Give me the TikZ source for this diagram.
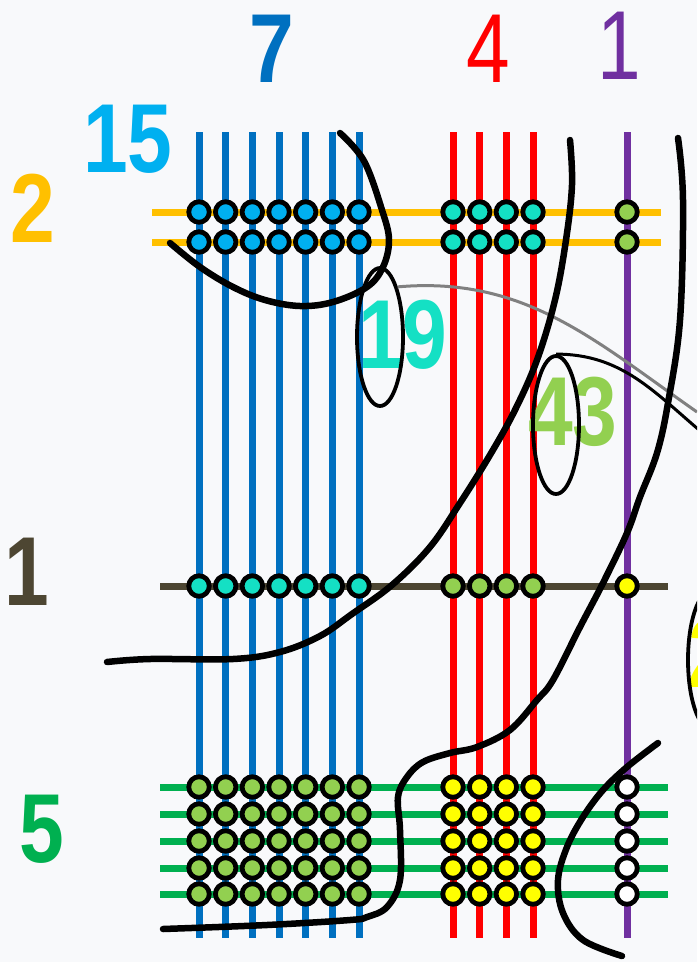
\documentclass[tikz,border=0pt]{standalone}
\usepackage{graphicx}
\usepackage{fontspec}
\setmainfont{Liberation Sans}
\usepackage{tikz}
\usetikzlibrary{positioning, calc, shapes.geometric}

\definecolor{bgcol}{HTML}{F8F9FB}
\definecolor{colblue}{HTML}{0070C0}
\definecolor{colsky}{HTML}{00B0F0}
\definecolor{colred}{HTML}{FF0000}
\definecolor{colpurple}{HTML}{7030A0}
\definecolor{colorange}{HTML}{FFC000}
\definecolor{cololive}{HTML}{4D4632}
\definecolor{colgreen}{HTML}{00B050}
\definecolor{colteal}{HTML}{14E0C4}
\definecolor{collime}{HTML}{92D050}
\definecolor{colyellow}{HTML}{FFFF00}

\newcommand{\slimbold}[1]{\scalebox{0.82}[1]{#1}}
\newcommand{\slimthin}[1]{\scalebox{0.8}[1]{#1}}

\begin{document}
\begin{tikzpicture}[x=1pt, y=-1pt,
    wire/.style={line width=7pt},
    dot/.style={circle, draw=black, line width=4.8pt, minimum size=20.5pt, inner sep=0pt},
    num/.style={anchor=base, inner sep=0pt, font=\fontsize{98}{100}\selectfont\bfseries},
    numthin/.style={anchor=base, inner sep=0pt, font=\fontsize{98}{100}\selectfont},
    ring/.style={draw=black, ellipse, line width=3.8pt, minimum width=46pt, minimum height=138pt, inner sep=0pt},
    cut/.style={line width=6.5pt, line cap=round, line join=round},
    link/.style={line width=3pt}]
  \fill[bgcol] (0,0) rectangle (697,962);
  \useasboundingbox (0,0) rectangle (697,962);
  \clip (0,0) rectangle (697,962);

  % columns
  \foreach \i in {0,...,6}
    \draw[wire, colblue] ({199+26.67*\i},132) -- ({199+26.67*\i},938);
  \foreach \i in {0,...,3}
    \draw[wire, colred] ({453+26.67*\i},132) -- ({453+26.67*\i},938);
  \draw[wire, colpurple] (627,132) -- (627,938);

  % rows
  \foreach \y in {212,242}
    \draw[wire, colorange] (152,\y) -- (661,\y);
  \draw[wire, cololive] (160,586) -- (668,586);
  \foreach \y in {787,814,841,868,894}
    \draw[wire, colgreen] (160,\y) -- (668,\y);

  % crossings
  \foreach \y/\r in {212/a, 242/b} {
    \foreach \i in {0,...,6}
      \node[dot, fill=colsky] (d\r b\i) at ({199+26.67*\i},\y) {};
    \foreach \i in {0,...,3}
      \node[dot, fill=colteal] (d\r r\i) at ({453+26.67*\i},\y) {};
    \node[dot, fill=collime] (d\r p) at (627,\y) {};
  }
  \foreach \i in {0,...,6}
    \node[dot, fill=colteal] (dcb\i) at ({199+26.67*\i},586) {};
  \foreach \i in {0,...,3}
    \node[dot, fill=collime] (dcr\i) at ({453+26.67*\i},586) {};
  \node[dot, fill=colyellow] (dcp) at (627,586) {};
  \foreach \y/\r in {787/d, 814/e, 841/f, 868/g, 894/h} {
    \foreach \i in {0,...,6}
      \node[dot, fill=collime] (d\r b\i) at ({199+26.67*\i},\y) {};
    \foreach \i in {0,...,3}
      \node[dot, fill=colyellow] (d\r r\i) at ({453+26.67*\i},\y) {};
    \node[dot, fill=white] (d\r p) at (627,\y) {};
  }

  % labels
  \node[num, colblue] (nblue) at (272,82) {\slimbold{7}};
  \node[numthin, colred] (nred) at (488,82) {\slimthin{4}};
  \node[numthin, colpurple] (npurple) at (619,79) {\slimthin{1}};
  \node[num, colsky] (nsky) at (128,172) {\slimbold{15}};
  \node[num, colorange] (norange) at (33,242) {\slimbold{2}};
  \node[num, cololive] (nolive) at (27,605) {\slimbold{1}};
  \node[num, colgreen] (ngreen) at (42,862) {\slimbold{5}};
  \node[num, colteal] (nteal) at (403,368) {\slimbold{19}};
  \node[num, collime] (nlime) at (573,445) {\slimbold{43}};
  \node[num, colyellow] (nyellow) at (711,687) {\slimbold{2}};

  % rings
  \node[ring] (e19) at (380,337) {};
  \node[ring] (e43) at (556,425) {};
  \node[ring] (eyel) at (711,660) {};

  % thin links
  \draw[link, black!50] (e19.north east) to[out=5, in=145] (697,412);
  \draw[link] (e43.north) to[out=0, in=140] (705,435);

  % cuts
  \draw[cut] plot[smooth, tension=0.6] coordinates {(340,133) (364,161) (382,210) (389,240)
    (383,267) (367,287) (333,302) (300,306) (265,300) (233,287) (200,267) (170,243)};
  \draw[cut] plot[smooth, tension=0.6] coordinates {(107,662) (150,659) (233,659) (280,652)
    (320,636) (352,614) (392,585) (430,547) (460,503) (490,455) (515,410) (537,360)
    (555,300) (566,240) (572,185) (570,140)};
  \draw[cut] plot[smooth, tension=0.6] coordinates {(678,138) (683,200) (680,320) (668,403)
    (657,453) (640,497) (627,533) (603,583) (580,627) (553,680) (537,700) (510,730)
    (477,747) (450,753) (423,762) (407,777) (398,797) (400,830) (400,880) (387,907)
    (367,917) (350,920) (267,925) (163,929)};
  \draw[cut] plot[smooth, tension=0.6] coordinates {(658,743) (627,767) (603,790) (583,817)
    (567,847) (558,880) (563,913) (583,940) (622,956)};
\end{tikzpicture}
\end{document}
